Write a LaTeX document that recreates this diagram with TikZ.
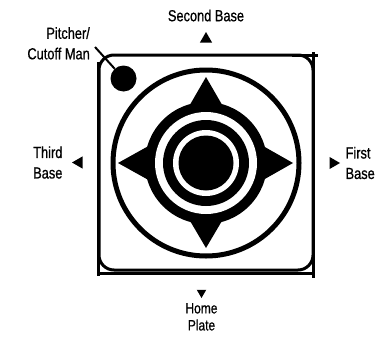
\documentclass[tikz,border=0pt]{standalone}
\usepackage{fontspec}
\setmainfont{Liberation Sans}[FakeStretch=0.8, FakeBold=0.8]
\usetikzlibrary{shapes.geometric, positioning}
\tikzstyle{basetext} = [
    inner sep=0pt, align=center, font=\fontsize{16}{20.5}\selectfont
]
\tikzstyle{basetri} = [
    regular polygon, regular polygon sides=3, fill=black,
    inner sep=0pt, minimum size=14pt
]
\tikzstyle{frame} = [line width=3pt]

\begin{document}
\begin{tikzpicture}[x=1pt, y=-1pt]
    \useasboundingbox (0,0) rectangle (387,340);
    % Field frame
    \coordinate (mound) at (206,163);
    \draw[frame, rounded corners=15pt] (99,55) rectangle (313,270);
    \draw[frame] (98.5,62) -- (98.5,276);
    \draw[frame] (97,273) -- (315,273);
    \draw[frame] (313.5,52) -- (313.5,278);
    \draw[frame] (292,55) -- (318,55);
    \draw[line width=5pt] (mound) circle[radius=93];
    % Star and rings
    \fill (206,77) -- (237.5,131.5) -- (293,163) -- (237.5,194.5) -- (206,248)
        -- (174.5,194.5) -- (118,163) -- (174.5,131.5) -- cycle;
    \foreach \r/\c in {61/black, 51/white, 43/black, 33/white, 27.5/black}
        \fill[\c] (mound) circle[radius=\r];
    % Pitcher
    \node[circle, fill=black, minimum size=26pt, inner sep=0pt] (pitcher) at (123.5,78.5) {};
    \node[basetext, align=right, anchor=north east] (pitcherlbl) at (90,27) {Pitcher/\\Cutoff Man};
    \coordinate (leadin) at (95,47);
    \draw[line width=2pt] (leadin) -- (pitcher);
    % Bases
    \node[basetri] (secondtri) at (206,39) {};
    \node[basetri, regular polygon rotate=90] (thirdtri) at (79,162.5) {};
    \node[basetri, regular polygon rotate=-90] (firsttri) at (333,163) {};
    \node[basetri, regular polygon rotate=180, minimum size=11pt] (hometri) at (201.5,292.5) {};
    \node[basetext, above=10pt of secondtri] (secondlbl) {Second Base};
    \node[basetext, left=9pt of thirdtri] (thirdlbl) {Third\\Base};
    \node[basetext, align=left, right=5pt of firsttri] (firstlbl) {First\\Base};
    \node[basetext, below=4.5pt of hometri, font=\fontsize{15}{17}\selectfont] (homelbl) {Home\\Plate};
\end{tikzpicture}
\end{document}
